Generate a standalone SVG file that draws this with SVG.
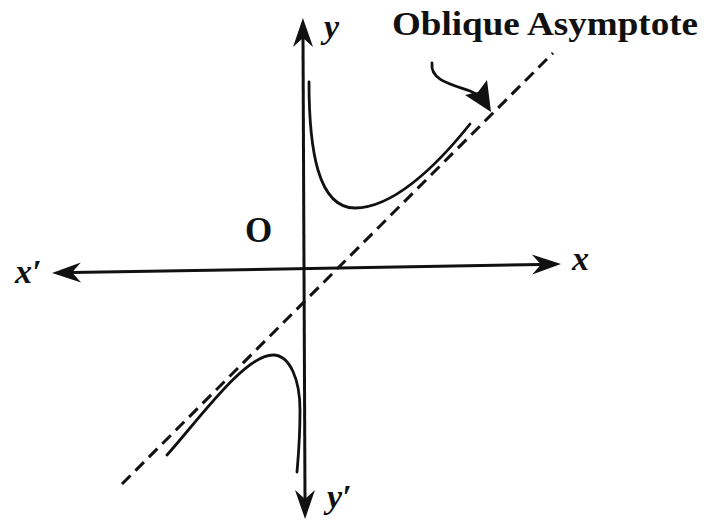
<svg xmlns="http://www.w3.org/2000/svg" width="711" height="521" viewBox="0 0 711 521">
<style>
.axis{stroke:#111;stroke-width:3;fill:none}
.curve{stroke:#111;stroke-width:2.8;fill:none;stroke-linecap:round}
.asym{stroke:#111;stroke-width:3;fill:none;stroke-dasharray:12 7}
.lbl{font-family:"Liberation Serif",serif;font-style:italic;font-weight:bold;font-size:34px;fill:#111}
.title{font-family:"Liberation Serif",serif;font-weight:bold;font-size:34px;fill:#111}
</style>
<defs>
<marker id="ah" markerUnits="userSpaceOnUse" markerWidth="34" markerHeight="24" viewBox="-32 -12 34 24" refX="-20" refY="0" orient="auto-start-reverse">
<path d="M0,0 L-29,-10 L-20,0 L-29,10 Z" fill="#111"/>
</marker>
</defs>
<rect width="711" height="521" fill="#fff"/>
<g id="connectors">
<line id="x-axis" class="axis" x1="72" y1="272.6" x2="541" y2="264.4" marker-start="url(#ah)" marker-end="url(#ah)"/>
<line id="y-axis" class="axis" x1="303" y1="38" x2="305" y2="499" marker-start="url(#ah)" marker-end="url(#ah)"/>
<line id="asymptote" class="asym" x1="122" y1="484" x2="553" y2="53"/>
<path id="label-arrow" class="curve" d="M432 63 C430 80 450 84 470 91 C477 94 481 97 484 101"/>
<polygon points="491,112 465,95 478,92 487,80" fill="#111"/>
</g>
<g id="curve-upper">
<path class="curve" d="M309 82 C309 150 318 208 355 208 C392 208 435 168 470 124"/>
</g>
<g id="curve-lower">
<path class="curve" d="M167 455 C200 418 245 355 273 355 C290 355 300 380 300 410 C300 440 298 460 297 472"/>
</g>
<g id="labels">
<text class="title" x="392" y="35" textLength="306" lengthAdjust="spacingAndGlyphs">Oblique Asymptote</text>
<text class="lbl" x="324" y="38">y</text>
<text class="lbl" x="327" y="508">y′</text>
<text class="lbl" x="572" y="270">x</text>
<text class="lbl" x="15" y="283">x′</text>
<text x="245" y="242" style="font-family:'Liberation Serif',serif;font-weight:bold;font-size:35px;fill:#111">O</text>
</g>
</svg>
